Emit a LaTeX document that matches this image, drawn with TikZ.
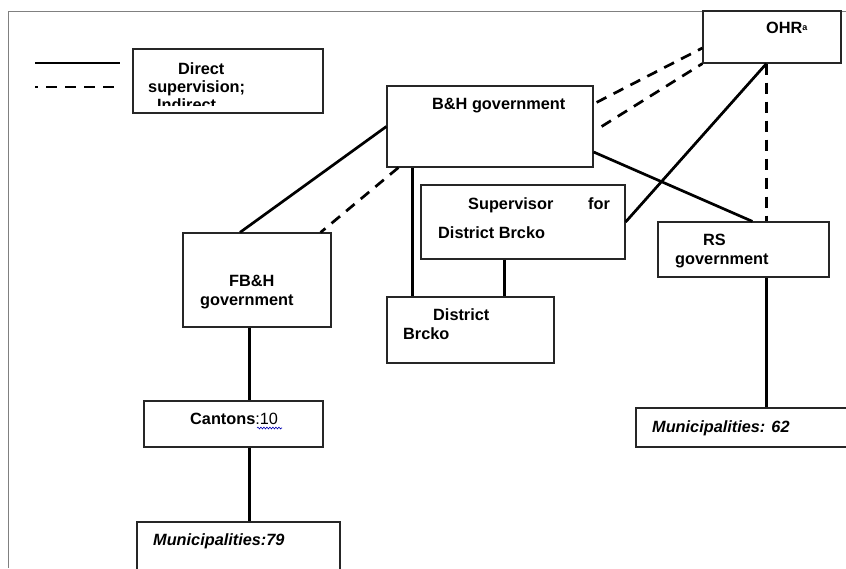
\documentclass[tikz,border=0pt]{standalone}
\usepackage{fontspec}
\setmainfont{Liberation Sans}
\usetikzlibrary{decorations.pathmorphing}
\begin{document}
\begin{tikzpicture}[x=1pt,y=-1pt,
  box/.style={draw=black!85,line width=1.2pt,fill=none,inner sep=0pt,rectangle},
  lbl/.style={anchor=base west,inner sep=0pt,font=\fontsize{16.3}{19}\selectfont\bfseries},
  ilbl/.style={anchor=base west,inner sep=0pt,font=\fontsize{16.3}{19}\selectfont\bfseries\itshape},
  conn/.style={line width=2.7pt,black},
  dconn/.style={line width=2.7pt,black,dash pattern=on 11pt off 8pt}]
\useasboundingbox (0,0) rectangle (846,568);
% frame
\draw[gray,line width=1pt] (8,568) -- (8,11) -- (846,11);
% boxes
\node[box,minimum width=190pt,minimum height=64pt] (legend) at (228,81) {};
\node[box,minimum width=138pt,minimum height=52pt] (ohr) at (772,37) {};
\node[box,minimum width=206pt,minimum height=81pt] (bh) at (490,126.5) {};
\node[box,minimum width=204pt,minimum height=74pt] (sup) at (523,222) {};
\node[box,minimum width=148pt,minimum height=94pt] (fbh) at (257,280) {};
\node[box,minimum width=167pt,minimum height=66pt] (db) at (470.5,330) {};
\node[box,minimum width=171pt,minimum height=55pt] (rs) at (743.5,249.5) {};
\node[box,minimum width=214pt,minimum height=39pt] (m62) at (743,427.5) {};
\node[box,minimum width=179pt,minimum height=46pt] (cant) at (233.5,424) {};
\node[box,minimum width=203pt,minimum height=50pt] (m79) at (238.5,547) {};
% legend lines
\coordinate (ls1) at (35,63); \coordinate (ls2) at (120,63);
\coordinate (ld1) at (35,87); \coordinate (ld2) at (120,87);
\draw[conn] (ls1) -- (ls2);
\draw[dconn,dash phase=8pt] (ld1) -- (ld2);
% texts
\node[lbl] (tdirect) at (178,74) {Direct};
\node[lbl] (tsuperv) at (148,92) {supervision;};
\begin{scope}
\clip (133,49) rectangle (323,105.5);
\node[lbl] (tindirect) at (157,110.5) {Indirect};
\end{scope}
\node[lbl] (tohr) at (766,33) {OHR\raisebox{3pt}{\fontsize{9}{10}\selectfont a}};
\node[lbl] (tbh) at (432,109) {B\&H government};
\node[lbl] (tsup) at (468,209) {Supervisor};
\node[lbl] (tfor) at (588,209) {for};
\node[lbl] (tsupdb) at (438,238) {District Brcko};
\node[lbl] (tfbh1) at (229,286) {FB\&H};
\node[lbl] (tfbh2) at (200,305) {government};
\node[lbl] (tdb1) at (433,320) {District};
\node[lbl] (tdb2) at (403,339) {Brcko};
\node[lbl] (trs1) at (703,245) {RS};
\node[lbl] (trs2) at (675,264) {government};
\node[ilbl] (tm62) at (652,432) {Municipalities: 62};
\node[lbl] (tcant) at (190,424) {Cantons\mdseries:10};
\coordinate (w1) at (257,428); \coordinate (w2) at (282,428);
\draw[blue!70!black,line width=0.6pt,decorate,decoration={snake,amplitude=0.9pt,segment length=3pt}] (w1) -- (w2);
\node[ilbl] (tm79) at (153,545) {Municipalities:79};
% connectors
\draw[conn] (bh.west) -- ([xshift=-17pt]fbh.north);
\draw[dconn] ([xshift=12pt]bh.south west) -- ([xshift=-11pt]fbh.north east);
\draw[conn] ([xshift=26pt]bh.south west) -- ([xshift=26pt]db.north west);
\draw[conn] ([yshift=-25.5pt]bh.east) -- ([xshift=95pt]rs.north west);
\draw[conn] ([xshift=64pt]ohr.south west) -- (sup.east);
\draw[dconn] ([xshift=64pt]ohr.south west) -- ([xshift=109pt]rs.north west);
\draw[dconn] ([xshift=3pt,yshift=-17pt]bh.north east) -- ([yshift=-11pt]ohr.west);
\draw[dconn] ([xshift=8pt]bh.east) -- (ohr.south west);
\draw[conn] ([xshift=84pt]sup.south west) -- ([xshift=118pt]db.north west);
\draw[conn] ([xshift=67pt]fbh.south west) -- ([xshift=106pt]cant.north west);
\draw[conn] ([xshift=106pt]cant.south west) -- ([xshift=113pt]m79.north west);
\draw[conn] ([xshift=109pt]rs.south west) -- ([xshift=131pt]m62.north west);
\end{tikzpicture}
\end{document}
